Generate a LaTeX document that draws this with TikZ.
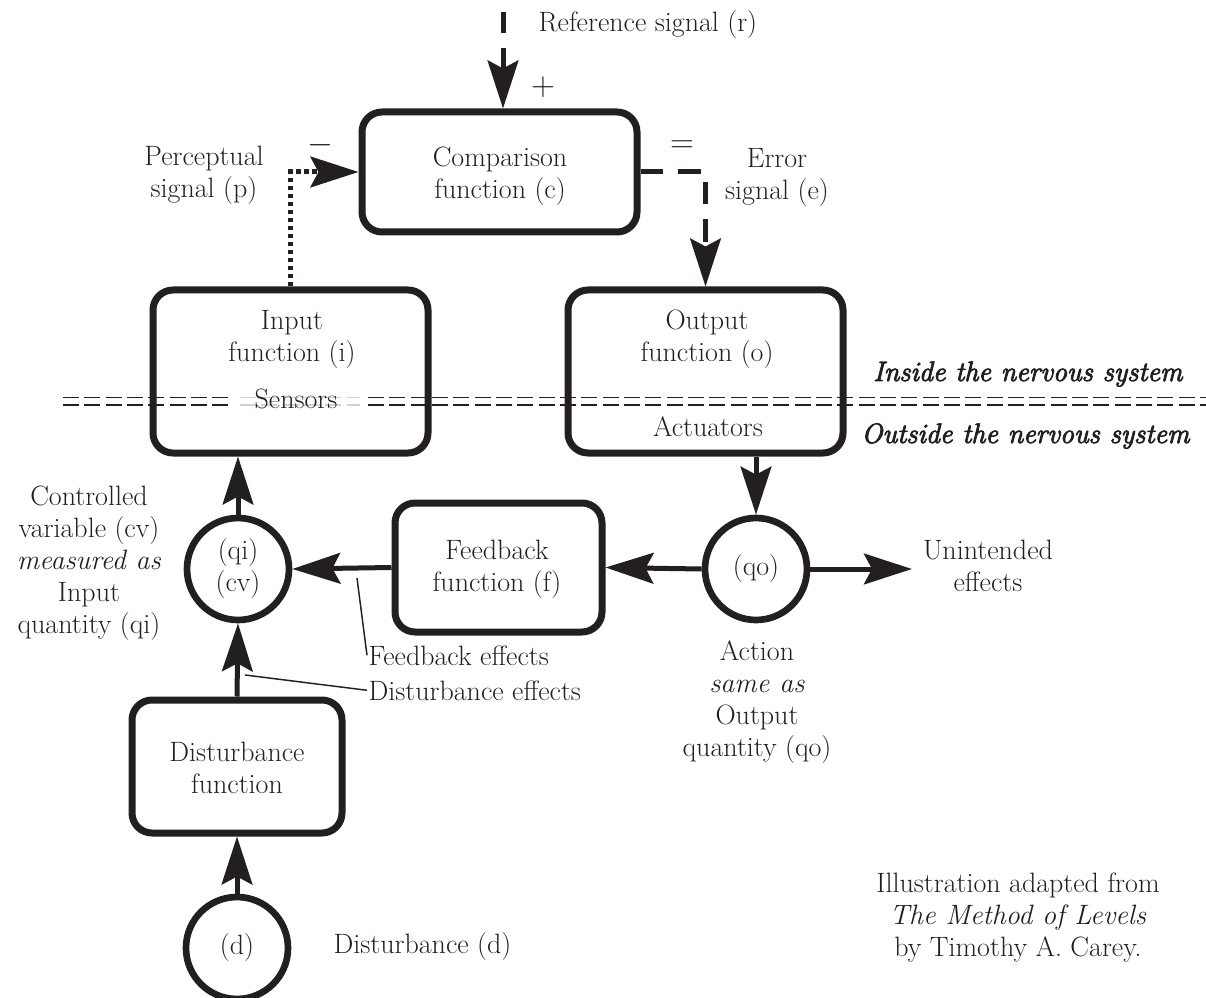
\documentclass[tikz,border=0pt]{standalone}
\usepackage{fontspec}
\newfontfamily\bifont{Latin Modern Roman}[FakeBold=3]
\usetikzlibrary{arrows.meta}
\definecolor{ink}{HTML}{231F20}
\begin{document}
\begin{tikzpicture}[x=0.75pt,y=-0.75pt,
  every node/.style={font=\fontsize{21}{24}\selectfont, text=ink},
  box/.style={draw=ink, line width=5.25pt, rounded corners=15pt, inner sep=0pt, minimum width=206.25pt},
  circ/.style={draw=ink, circle, line width=5pt, minimum size=76.5pt, inner sep=0pt, align=center},
  txt/.style={align=center, inner sep=1pt},
  arr/.style={draw=ink, line width=3.75pt, -{Stealth[length=36pt,width=23pt,inset=6pt]}},
  sepline/.style={draw=ink, line width=1.3pt, dash pattern=on 12pt off 4pt},
  sepgray/.style={draw=black!18, line width=1.3pt, dash pattern=on 12pt off 4pt},
  leader/.style={draw=ink, line width=1.1pt}
]
\useasboundingbox (0,0) rectangle (1206,998);

% boundary between inside and outside the nervous system
\draw[sepline] (63,397.5) -- (233,397.5);
\draw[sepline] (63,405) -- (233,405);
\draw[sepgray] (240,397.5) -- (360,397.5);
\draw[sepgray] (240,405) -- (360,405);
\draw[sepline] (368,397.5) -- (1206,397.5);
\draw[sepline] (368,405) -- (1206,405);

% boxes
\node[box, minimum height=90pt] (comp) at (499.5,172) {};
\node[box, minimum height=122.25pt] (input) at (290.5,371.5) {};
\node[box, minimum height=122.25pt] (output) at (705.5,371.5) {};
\node[box, minimum width=155.25pt, minimum height=96.75pt] (fb) at (498.5,567.5) {};
\node[box, minimum width=157.5pt, minimum height=99.75pt] (dist) at (237,766.5) {};

% box texts
\node[txt] (compt) at (500,176) {Comparison\\function (c)};
\node[txt] (inputt) at (292,339) {Input\\function (i)};
\node[txt, anchor=base] (sens) at (296,408) {Sensors};
\node[txt] (outputt) at (707,339) {Output\\function (o)};
\node[txt, anchor=base] (act) at (708,436) {Actuators};
\node[txt] (fbt) at (497,569) {Feedback\\function (f)};
\node[txt] (distt) at (237,768) {Disturbance\\function};

% circles
\node[circ] (qi) at (238,569) {(qi)\\(cv)};
\node[circ] (qo) at (756,569) {(qo)};
\node[circ] (d) at (237,948) {(d)};

% free ends
\coordinate (rtop) at (503,12);
\coordinate (uend) at (912,569);

% connectors
\draw[arr, dash pattern=on 15.75pt off 11.25pt on 300pt] (rtop) -- (rtop |- comp.north);
\draw[arr, dash pattern=on 3.5pt off 2.5pt] (input.north) |- (comp.west);
\draw[arr, dash pattern=on 17pt off 11pt] (comp.east) -| (output.north);
\draw[arr] (qi.north) -- (qi.north |- input.south);
\draw[arr] (dist.north) -- (qi.south);
\draw[arr] (d.north) -- (dist.south);
\draw[arr] (fb.west) -- (qi.east);
\draw[arr] (output.south -| qo.north) -- (qo.north);
\draw[arr] (qo.west) -- (fb.east);
\draw[arr] (qo.east) -- (uend);

% signs
\node[txt, font=\fontsize{26}{26}\selectfont] (plus) at (543,87) {$+$};
\node[txt, font=\fontsize{26}{26}\selectfont] (minus) at (320,145) {$-$};
\node[txt, font=\fontsize{26}{26}\selectfont] (equal) at (682,147) {$=$};

% labels
\node[txt, anchor=base west] (reft) at (537,32) {Reference signal (r)};
\node[txt] (perc) at (204,175) {Perceptual\\signal (p)};
\node[txt] (err) at (777,177) {Error\\signal (e)};
\node[txt, anchor=base east] (inside) at (1184,381) {\bifont\itshape Inside the nervous system};
\node[txt, anchor=base east] (outside) at (1191,443) {\bifont\itshape Outside the nervous system};
\node[txt] (cv) at (89,563) {Controlled\\variable (cv)\\\textit{measured as}\\Input\\quantity (qi)};
\node[txt] (action) at (757,702) {Action\\\textit{same as}\\Output\\quantity (qo)};
\node[txt] (unint) at (988,566) {Unintended\\effects};
\node[txt, anchor=base west] (fbe) at (367,665) {Feedback effects};
\node[txt, anchor=base west] (dse) at (367,700) {Disturbance effects};
\node[txt, anchor=base west] (dlab) at (332,953) {Disturbance (d)};
\node[txt] (credit) at (1018,918) {Illustration adapted from\\\textit{The Method of Levels}\\by Timothy A. Carey.};

% leader lines
\coordinate (fe1) at (357,578);
\coordinate (de1) at (245,675);
\draw[leader] (fe1) -- (fbe.west);
\draw[leader] (de1) -- (dse.west);
\end{tikzpicture}
\end{document}
